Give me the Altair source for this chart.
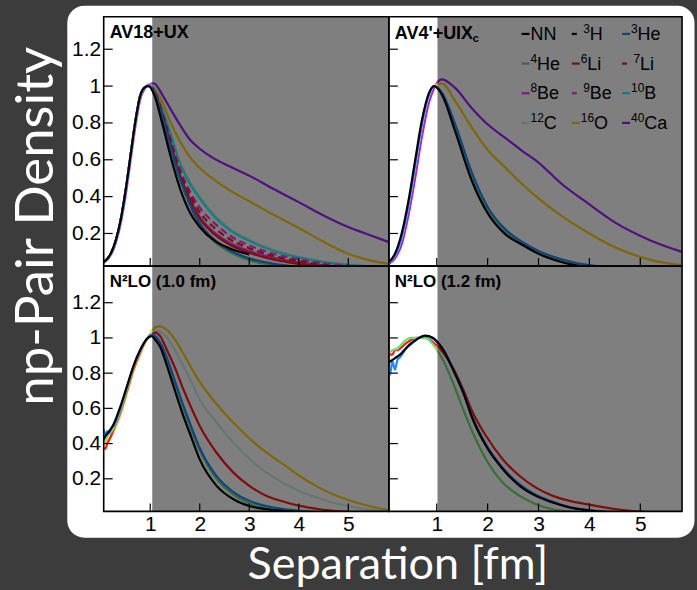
import altair as alt
import pandas as pd

N = None

# ---------------- data ----------------
# Panel AV18+UX
TL_X = [0.06, 0.2, 0.3, 0.4, 0.5, 0.6, 0.7, 0.8, 0.9, 0.97, 1.07, 1.25, 1.4, 1.6, 1.8,
        2.0, 2.3, 2.6, 3.0, 3.5, 4.0, 4.5, 5.0, 5.5, 5.82]
TL_NN = [0.045, 0.09, 0.16, 0.27, 0.43, 0.62, 0.81, 0.95, 0.995, 1.0, 0.96, 0.79, 0.63, 0.445, 0.315,
         0.235, 0.16, 0.12, 0.086, N, N, N, N, N, N]
TL_3H = [0.044, 0.088, 0.158, 0.268, 0.428, 0.618, 0.808, 0.95, 0.995, 1.0, 0.968, 0.822, 0.677, 0.497, 0.357,
         0.252, 0.162, 0.107, 0.062, 0.033, 0.016, N, N, N, N]
TL_3HE = [0.044, 0.088, 0.158, 0.268, 0.428, 0.618, 0.808, 0.95, 0.995, 1.002, 0.97, 0.825, 0.68, 0.50, 0.36,
          0.255, 0.165, 0.11, 0.065, 0.035, 0.018, 0.009, N, N, N]
TL_4HE = [0.044, 0.088, 0.158, 0.268, 0.428, 0.618, 0.808, 0.95, 0.995, 1.002, 0.97, 0.82, 0.675, 0.495, 0.355,
          0.25, 0.155, 0.10, 0.055, 0.027, 0.012, 0.005, N, N, N]
TL_6LI = [0.044, 0.088, 0.158, 0.268, 0.428, 0.618, 0.808, 0.95, 0.995, 1.003, 0.975, 0.835, 0.695, 0.515, 0.38,
          0.28, 0.195, 0.14, 0.095, 0.058, 0.035, 0.02, 0.012, 0.007, 0.005]
TL_7LI = [0.044, 0.088, 0.158, 0.268, 0.428, 0.618, 0.808, 0.95, 0.995, 1.004, 0.978, 0.845, 0.71, 0.535, 0.41,
          0.315, 0.23, 0.17, 0.12, 0.078, 0.05, 0.03, 0.018, 0.01, 0.007]
TL_8BE = [0.043, 0.087, 0.156, 0.265, 0.425, 0.615, 0.805, 0.948, 0.995, 1.005, 0.975, 0.84, 0.70, 0.52, 0.39,
          0.29, 0.205, 0.15, 0.105, 0.068, 0.043, 0.027, 0.017, 0.01, 0.008]
TL_9BE = [0.043, 0.087, 0.156, 0.265, 0.425, 0.615, 0.805, 0.948, 0.995, 1.006, 0.98, 0.85, 0.72, 0.55, 0.43,
          0.34, 0.255, 0.19, 0.135, 0.09, 0.06, 0.038, 0.024, 0.015, 0.01]
TL_10B = [0.043, 0.087, 0.156, 0.265, 0.425, 0.615, 0.805, 0.948, 0.995, 1.008, 0.985, 0.87, 0.75, 0.58, 0.47,
          0.39, 0.29, 0.22, 0.16, 0.105, 0.07, 0.045, 0.03, 0.02, 0.015]
TL_12C = [0.043, 0.087, 0.156, 0.265, 0.425, 0.615, 0.805, 0.948, 0.995, 1.008, 0.985, 0.875, 0.755, 0.59, 0.48,
          0.40, 0.30, 0.228, 0.167, 0.11, 0.073, 0.047, 0.031, 0.021, 0.016]
TL_16O = [0.042, 0.085, 0.152, 0.26, 0.418, 0.608, 0.798, 0.945, 0.995, 1.01, 0.99, 0.91, 0.81, 0.70, 0.615,
          0.555, 0.49, 0.435, 0.375, 0.30, 0.23, 0.155, 0.09, 0.05, 0.036]
TL_40CA = [0.04, 0.08, 0.145, 0.25, 0.40, 0.59, 0.78, 0.93, 0.99, 1.01, 1.015, 0.95, 0.88, 0.79, 0.71,
           0.66, 0.605, 0.565, 0.514, 0.44, 0.37, 0.298, 0.235, 0.185, 0.153]

# Panel AV4'+UIXc
TR_X = [0.06, 0.18, 0.31, 0.445, 0.575, 0.706, 0.837, 0.95, 1.10, 1.36, 1.69, 2.01, 2.34, 2.67,
        3.0, 3.45, 3.9, 4.5, 5.2, 5.82]
TR_NN = [0.045, 0.09, 0.198, 0.378, 0.595, 0.81, 0.955, 1.0, 0.955, 0.757, 0.486, 0.306, 0.198, 0.14,
         0.09, 0.045, 0.018, N, N, N]
TR_3HE = [0.04, 0.08, 0.18, 0.355, 0.57, 0.79, 0.945, 1.0, 0.965, 0.795, 0.53, 0.34, 0.225, 0.155,
          0.105, 0.06, 0.032, 0.013, N, N]
TR_4HE = [0.04, 0.08, 0.18, 0.355, 0.57, 0.79, 0.945, 1.0, 0.965, 0.79, 0.52, 0.33, 0.215, 0.145,
          0.095, 0.05, 0.025, 0.01, N, N]
TR_16O = [0.04, 0.08, 0.175, 0.35, 0.56, 0.78, 0.94, 1.0, 1.015, 0.92, 0.775, 0.65, 0.56, 0.47,
          0.39, 0.295, 0.216, 0.125, 0.057, 0.027]
TR_40CA = [0.035, 0.065, 0.14, 0.30, 0.50, 0.72, 0.90, 0.99, 1.036, 0.99, 0.88, 0.79, 0.72, 0.65,
           0.585, 0.47, 0.378, 0.26, 0.162, 0.10]

# Panel N2LO (1.0 fm)
BL_X = [0.06, 0.09, 0.13, 0.17, 0.22, 0.26, 0.4, 0.53, 0.66, 0.8, 0.92, 1.03, 1.1, 1.2, 1.34,
        1.5, 1.67, 1.85, 2.0, 2.34, 2.68, 3.0, 3.35, 3.7, 4.02, 4.35, 4.69, 5.0, 5.36, 5.82]
BL_NN = [0.424, 0.44, 0.455, 0.47, 0.49, 0.51, 0.613, 0.726, 0.84, 0.934, 0.99, 1.01, 0.99, 0.95, 0.84,
         0.70, 0.556, 0.42, 0.31, 0.16, 0.084, 0.046, 0.027, 0.017, 0.01, N, N, N, N, N]
BL_3HE = [0.48, 0.45, 0.47, 0.46, 0.49, 0.50, 0.60, 0.72, 0.835, 0.93, 0.99, 1.02, 1.01, 0.975, 0.885,
          0.755, 0.615, 0.48, 0.375, 0.215, 0.125, 0.075, 0.045, 0.028, 0.018, 0.011, 0.006, N, N, N]
BL_4HE = [0.41, 0.42, 0.44, 0.455, 0.47, 0.49, 0.59, 0.71, 0.83, 0.93, 0.99, 1.015, 1.0, 0.965, 0.87,
          0.74, 0.60, 0.46, 0.36, 0.20, 0.11, 0.06, 0.035, 0.02, 0.01, N, N, N, N, N]
BL_6LI = [0.377, 0.37, 0.40, 0.42, 0.45, 0.48, 0.58, 0.70, 0.82, 0.92, 0.99, 1.02, 1.03, 1.01, 0.93,
          0.83, 0.707, 0.59, 0.50, 0.348, 0.235, 0.16, 0.103, 0.07, 0.046, 0.03, 0.018, 0.012, 0.008, N]
BL_12C = [0.41, 0.415, 0.43, 0.445, 0.46, 0.48, 0.58, 0.70, 0.82, 0.92, 0.99, 1.03, 1.04, 1.035, 1.0,
          0.93, 0.84, 0.74, 0.65, 0.52, 0.405, 0.315, 0.235, 0.175, 0.13, 0.095, 0.065, 0.045, 0.027, 0.015]
BL_16O = [0.40, 0.405, 0.415, 0.43, 0.45, 0.47, 0.565, 0.685, 0.81, 0.91, 0.985, 1.04, 1.06, 1.066, 1.045,
          0.99, 0.91, 0.82, 0.75, 0.625, 0.518, 0.43, 0.348, 0.28, 0.216, 0.16, 0.112, 0.08, 0.05, 0.022]

# Panel N2LO (1.2 fm)
BR_X = [0.06, 0.08, 0.13, 0.18, 0.23, 0.28, 0.4, 0.5, 0.6, 0.77, 0.93, 1.06, 1.13, 1.32, 1.52,
        1.71, 1.97, 2.3, 2.63, 2.95, 3.28, 3.61, 3.94, 4.46, 4.9, 5.3]
BR_NN = [0.858, 0.865, 0.875, 0.885, 0.895, 0.905, 0.943, 0.97, 0.99, 1.013, 1.0, 0.96, 0.93, 0.82, 0.69,
         0.537, 0.386, 0.254, 0.16, 0.103, 0.065, 0.037, 0.022, 0.008, N, N]
BR_3HE = [0.84, 0.79, 0.867, 0.82, 0.877, 0.89, 0.94, 0.965, 0.99, 1.01, 0.995, 0.96, 0.935, 0.825, 0.695,
          0.545, 0.395, 0.262, 0.168, 0.108, 0.07, 0.04, 0.024, 0.009, N, N]
BR_4HE = [0.925, 0.92, 0.93, 0.935, 0.94, 0.955, 0.99, 1.0, 1.0, 1.0, 0.962, 0.906, 0.87, 0.745, 0.594,
          0.46, 0.31, 0.178, 0.103, 0.056, 0.027, 0.012, N, N, N, N]
BR_6LI = [0.925, 0.905, 0.906, 0.93, 0.93, 0.94, 0.97, 0.99, 1.0, 1.0, 0.975, 0.94, 0.915, 0.83, 0.707,
          0.575, 0.443, 0.31, 0.216, 0.15, 0.103, 0.075, 0.056, 0.03, 0.015, 0.008]

LEGEND_KEYS = ["NN", "3H", "3He", "4He", "6Li", "7Li", "8Be", "9Be", "10B", "12C", "16O", "40Ca"]
LEGEND_MASS = ["", "3", "3", "4", "6", "7", "8", "9", "10", "12", "16", "40"]
LEGEND_ELEM = ["NN", "H", "He", "He", "Li", "Li", "Be", "Be", "B", "C", "O", "Ca"]

XTICKS = [1, 2, 3, 4, 5]
YTICKS = [0.2, 0.4, 0.6, 0.8, 1.0, 1.2]

# ---------------- styling ----------------
STYLE = {
    "NN": ("#000000", False),
    "3H": ("#000000", True),
    "3He": ("#2288ff", False),
    "4He": ("#70dc70", False),
    "6Li": ("#ff1a1a", False),
    "7Li": ("#ff1a1a", True),
    "8Be": ("#ff30ff", False),
    "9Be": ("#ff30ff", True),
    "10B": ("#20ffff", False),
    "12C": ("#d0ece2", False),
    "16O": ("#ffcc10", False),
    "40Ca": ("#a020ff", False),
}

XDOM = [0.06, 5.82]
YDOM_TOP = [0.023, 1.376]
YDOM_BOT = [0.015, 1.408]
W_L, W_R, H_T, H_B = 286, 294, 250, 246
OX, OY = 103, 15
WIN_W, WIN_H = 697, 590
BG = "#3c3c3c"
ONE = pd.DataFrame({"k": [0]})
LABEL_FONT = "Liberation Sans"


def x_axis():
    return alt.Axis(values=XTICKS, format="d", ticks=False, domain=False, grid=False,
                    labelFontSize=21, labelFont=LABEL_FONT, labelColor="black",
                    labelPadding=2, labelFlush=False, title=None, zindex=1)


def y_axis():
    return alt.Axis(values=YTICKS, format="~g", ticks=False, domain=False, grid=False,
                    labelFontSize=21, labelFont=LABEL_FONT, labelColor="black",
                    labelPadding=3, title=None, zindex=1)


def text_layer(txt, x, y, size, bold=True, font=LABEL_FONT, color="black", **kw):
    return alt.Chart(ONE).mark_text(
        text=txt, font=font, fontSize=size, fontWeight="bold" if bold else "normal",
        color=color, align=kw.pop("align", "left"), baseline=kw.pop("baseline", "alphabetic"), **kw
    ).encode(x=alt.value(x), y=alt.value(y))


def build_panel(w, h, ydom, xs, series, shade_start, show_x, show_y, titles,
                pre=(), legend=False):
    xa = x_axis() if show_x else None
    ya = y_axis() if show_y else None
    fm_per_px = (XDOM[1] - XDOM[0]) / w

    def X(f):
        return alt.X(f, type="quantitative", scale=alt.Scale(domain=XDOM, nice=False, zero=False), axis=xa)

    def Y(f):
        return alt.Y(f, type="quantitative", scale=alt.Scale(domain=ydom, nice=False, zero=False), axis=ya)

    layers = list(pre)
    for name, ys in series:
        color, dashed = STYLE[name]
        df = pd.DataFrame({"x": xs, "y": ys}).dropna()
        kw = dict(color=color, strokeWidth=2.2, clip=True, interpolate="monotone")
        if dashed:
            kw["strokeDash"] = [7, 4]
        layers.append(alt.Chart(df).mark_line(**kw).encode(x=X("x"), y=Y("y")))

    if legend:
        rows = []
        for i, (key, mass, elem) in enumerate(zip(LEGEND_KEYS, LEGEND_MASS, LEGEND_ELEM)):
            color, dashed = STYLE[key]
            col, row = i % 3, i // 3
            lx = 2.667 + col * 0.987
            ly = 1.283 - row * 0.161
            tx = lx + (11.5 if dashed else 9.0) * fm_per_px
            rows.append({"mass": mass, "elem": elem, "lx": lx,
                         "lx2": lx + (5 if dashed else 8) * fm_per_px,
                         "tx": tx, "tx2": tx + 6.6 * len(mass) * fm_per_px,
                         "ly": ly, "c": color})
        ldf = pd.DataFrame(rows)
        layers.append(alt.Chart(ldf).mark_rule(strokeWidth=2.2).encode(
            x=X("lx"), x2=alt.X2("lx2"), y=Y("ly"), color=alt.Color("c:N", scale=None)))
        layers.append(alt.Chart(ldf).mark_text(
            font=LABEL_FONT, fontSize=12, color="black", align="left", baseline="middle", dy=-5
        ).encode(x=X("tx"), y=Y("ly"), text="mass:N"))
        layers.append(alt.Chart(ldf).mark_text(
            font=LABEL_FONT, fontSize=18, color="black", align="left", baseline="middle", dy=1
        ).encode(x=X("tx2"), y=Y("ly"), text="elem:N"))

    shade = pd.DataFrame({"x0": [shade_start], "x1": [XDOM[1]]})
    layers.append(alt.Chart(shade).mark_rect(color="black", opacity=0.5).encode(
        x=X("x0"), x2=alt.X2("x1"), y=alt.value(0), y2=alt.value(h)))

    layers.append(alt.Chart(pd.DataFrame({"t": XTICKS})).mark_rule(color="black", strokeWidth=1.2).encode(
        x=X("t"), y=alt.value(h - 8), y2=alt.value(h)))
    layers.append(alt.Chart(pd.DataFrame({"t": YTICKS})).mark_rule(color="black", strokeWidth=1.2).encode(
        y=Y("t"), x=alt.value(0), x2=alt.value(9)))
    layers.append(alt.Chart(ONE).mark_rect(filled=False, stroke="black", strokeWidth=1.6).encode(
        x=alt.value(0), x2=alt.value(w), y=alt.value(0), y2=alt.value(h)))
    layers += titles
    return alt.layer(*layers).properties(width=w, height=h)


# backgrounds and big titles (decoration, placed relative to the first panel)
pre_tl = [
    alt.Chart(ONE).mark_rect(color=BG).encode(
        x=alt.value(-OX), x2=alt.value(WIN_W - OX), y=alt.value(-OY), y2=alt.value(WIN_H - OY)),
    alt.Chart(ONE).mark_rect(color="white", cornerRadius=17).encode(
        x=alt.value(66.5 - OX), x2=alt.value(695.5 - OX), y=alt.value(4 - OY), y2=alt.value(537.5 - OY)),
    text_layer("np-Pair Density", 36 - OX, 225 - OY, 53, bold=False, font="Lato", color="white",
               align="center", baseline="middle", angle=270),
]

tl = build_panel(
    W_L, H_T, YDOM_TOP, TL_X,
    [("40Ca", TL_40CA), ("16O", TL_16O), ("12C", TL_12C), ("10B", TL_10B), ("9Be", TL_9BE),
     ("8Be", TL_8BE), ("7Li", TL_7LI), ("6Li", TL_6LI), ("3H", TL_3H), ("4He", TL_4HE),
     ("3He", TL_3HE), ("NN", TL_NN)],
    1.04, False, True,
    [text_layer("AV18+UX", 6, 21, 18)],
    pre=pre_tl,
)

tr = build_panel(
    W_R, H_T, YDOM_TOP, TR_X,
    [("40Ca", TR_40CA), ("16O", TR_16O), ("4He", TR_4HE), ("3He", TR_3HE), ("NN", TR_NN)],
    1.015, False, False,
    [text_layer("AV4'+UIX", 6, 22, 18), text_layer("c", 84, 25, 11)],
    legend=True,
)

bl = build_panel(
    W_L, H_B, YDOM_BOT, BL_X,
    [("16O", BL_16O), ("12C", BL_12C), ("6Li", BL_6LI), ("4He", BL_4HE), ("3He", BL_3HE), ("NN", BL_NN)],
    1.04, True, True,
    [text_layer("N²LO (1.0 fm)", 6, 21, 17),
     text_layer("Separation [fm]", 398 - OX, 579 - OY - H_T, 45, bold=False, font="Lato",
                color="white", align="center")],
)

br = build_panel(
    W_R, H_B, YDOM_BOT, BR_X,
    [("6Li", BR_6LI), ("4He", BR_4HE), ("3He", BR_3HE), ("NN", BR_NN)],
    1.015, True, False,
    [text_layer("N²LO (1.2 fm)", 6, 21, 17)],
)

chart = alt.concat(
    tl, tr, bl, br, columns=2, spacing=0, bounds="flush", align="each"
).properties(padding=0, background=BG).configure_view(stroke="transparent")

chart.save("out.html", embed_options={"renderer": "svg", "actions": False})
